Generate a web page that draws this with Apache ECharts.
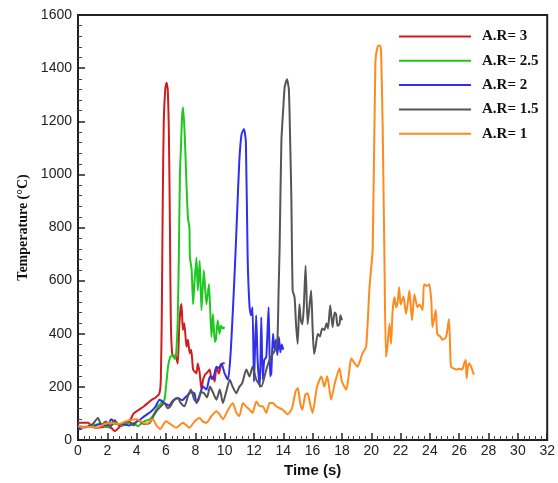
<!DOCTYPE html>
<html>
<head>
<meta charset="utf-8">
<script src="https://cdn.jsdelivr.net/npm/echarts@6/dist/echarts.min.js"></script>
<style>
  html, body { margin: 0; padding: 0; background: #fff; }
  #chart { width: 558px; height: 483px; }
</style>
</head>
<body>
<div id="chart"></div>
<script>
// time (s), temperature (°C)
const ar3 = [[0,65],[0.7,65],[0.9,52],[1.3,45],[1.8,50],[2.25,46],[2.5,34],[2.9,52],[3.3,60],[3.6,80],[3.8,100],[4.1,112],[4.5,127],[5.0,150],[5.3,160],[5.55,175],[5.65,230],[5.72,500],[5.78,900],[5.85,1200],[5.95,1320],[6.04,1345],[6.12,1320],[6.2,1150],[6.27,800],[6.33,450],[6.42,326],[6.55,310],[6.65,320],[6.8,288],[6.9,420],[7.0,500],[7.06,512],[7.15,414],[7.25,440],[7.4,351],[7.5,377],[7.62,326],[7.72,340],[7.85,265],[8.0,255],[8.08,251],[8.17,288],[8.3,251],[8.42,190],[8.53,227],[8.65,245],[8.76,251],[8.98,265],[9.1,230],[9.2,239],[9.32,220],[9.44,276],[9.6,250],[9.75,280],[9.89,288],[10.0,290]];
const ar25 = [[0,52],[0.5,50],[1.0,55],[1.5,60],[2.0,48],[2.5,62],[3.0,55],[3.4,65],[3.86,60],[4.08,52],[4.5,70],[4.9,78],[5.2,100],[5.45,127],[5.7,140],[5.9,152],[6.0,200],[6.15,280],[6.3,313],[6.5,320],[6.6,305],[6.7,330],[6.8,450],[6.88,700],[6.95,1000],[7.02,1100],[7.1,1220],[7.17,1252],[7.28,1146],[7.4,960],[7.5,835],[7.6,800],[7.63,690],[7.75,640],[7.85,511],[7.95,600],[8.08,686],[8.17,563],[8.3,675],[8.42,489],[8.58,638],[8.76,511],[8.93,586],[9.1,388],[9.2,474],[9.33,370],[9.4,377],[9.53,451],[9.65,400],[9.75,430],[9.87,420],[10.0,425]];
const ar2 = [[0,45],[0.5,48],[1.0,50],[1.5,60],[2.0,55],[2.27,78],[2.6,60],[3.0,60],[3.5,55],[4.08,71],[4.54,90],[5.0,108],[5.3,127],[5.56,152],[5.9,139],[6.2,130],[6.5,150],[6.8,158],[7.1,150],[7.4,165],[7.7,180],[7.94,176],[8.08,139],[8.3,170],[8.53,201],[8.76,190],[9.0,239],[9.2,230],[9.44,276],[9.6,270],[9.78,288],[10.0,251],[10.23,227],[10.4,320],[10.55,474],[10.7,650],[10.85,850],[11.0,1050],[11.15,1150],[11.32,1171],[11.45,1120],[11.57,686],[11.7,500],[11.8,470],[11.9,500],[12.0,220],[12.05,300],[12.15,470],[12.25,300],[12.4,200],[12.5,462],[12.6,227],[12.7,300],[12.84,313],[13.0,500],[13.1,240],[13.18,250],[13.3,400],[13.4,340],[13.5,377],[13.6,320],[13.7,388],[13.8,330],[13.9,360],[14.0,340]];
const ar15 = [[0.7,52],[1.0,60],[1.36,83],[1.6,55],[1.9,70],[2.2,50],[2.5,75],[2.8,55],[3.1,65],[3.5,70],[3.8,55],[4.1,75],[4.5,60],[4.9,65],[5.2,95],[5.45,115],[5.7,130],[5.9,139],[6.1,120],[6.3,127],[6.55,150],[6.8,158],[7.0,140],[7.26,127],[7.5,165],[7.7,190],[7.95,150],[8.17,145],[8.4,180],[8.6,176],[8.8,160],[9.0,201],[9.2,180],[9.44,152],[9.67,190],[9.88,139],[10.1,180],[10.35,227],[10.55,200],[10.8,176],[11.0,200],[11.2,214],[11.48,265],[11.7,239],[11.9,276],[12.16,227],[12.5,201],[12.84,265],[13.05,300],[13.28,324],[13.45,340],[13.6,377],[13.68,563],[13.75,724],[13.87,1123],[14.0,1250],[14.1,1330],[14.25,1358],[14.38,1320],[14.48,1100],[14.55,910],[14.64,563],[14.77,537],[14.87,436],[14.98,362],[15.1,511],[15.2,450],[15.3,436],[15.4,500],[15.52,656],[15.66,436],[15.78,500],[15.9,563],[16.0,420],[16.1,324],[16.2,350],[16.35,399],[16.5,390],[16.65,420],[16.8,414],[16.95,440],[17.05,420],[17.2,507],[17.36,425],[17.5,480],[17.6,474],[17.7,430],[17.83,436],[17.9,470],[18.0,451]];
const ar1 = [[0,52],[0.5,48],[1.0,50],[1.27,46],[1.8,60],[2.3,65],[2.8,60],[3.3,71],[3.6,75],[4.0,78],[4.3,70],[4.67,60],[5.1,78],[5.35,55],[5.6,41],[6.0,71],[6.3,60],[6.7,46],[7.15,65],[7.4,55],[7.6,46],[7.95,70],[8.3,83],[8.5,70],[8.76,65],[9.1,90],[9.44,108],[9.67,95],[9.88,78],[10.2,110],[10.55,139],[10.8,102],[11.0,90],[11.25,139],[11.48,125],[11.7,114],[11.9,102],[12.16,145],[12.4,127],[12.6,127],[12.84,102],[13.07,139],[13.3,139],[13.5,127],[13.75,120],[13.96,114],[14.3,97],[14.6,120],[14.85,185],[15.0,195],[15.15,139],[15.3,114],[15.5,170],[15.66,176],[15.85,130],[16.0,102],[16.3,200],[16.6,239],[16.8,201],[17.0,240],[17.26,152],[17.5,210],[17.83,270],[18.0,220],[18.3,190],[18.5,260],[18.63,307],[18.85,290],[19.06,276],[19.25,300],[19.4,326],[19.65,351],[19.88,575],[20.1,724],[20.28,1421],[20.44,1482],[20.6,1485],[20.67,1460],[20.78,1171],[20.9,675],[21.0,313],[21.1,350],[21.24,438],[21.35,362],[21.45,480],[21.58,537],[21.7,500],[21.8,520],[21.9,575],[22.0,510],[22.1,526],[22.2,540],[22.37,475],[22.5,520],[22.6,563],[22.7,500],[22.78,451],[22.94,549],[23.05,520],[23.15,500],[23.3,510],[23.5,489],[23.6,586],[23.8,580],[23.96,586],[24.1,520],[24.17,425],[24.3,460],[24.4,489],[24.5,399],[24.7,390],[24.85,377],[25.1,388],[25.3,456],[25.43,276],[25.6,270],[25.8,265],[26.0,268],[26.2,265],[26.35,290],[26.45,302],[26.5,232],[26.6,280],[26.7,288],[26.85,270],[27.0,246]];

const names = ["A.R= 3", "A.R= 2.5", "A.R= 2", "A.R= 1.5", "A.R= 1"];
const colors = ["#d01c1c", "#1fc81f", "#2f2ff0", "#555555", "#ff8a1e"];
const seriesData = [ar3, ar25, ar2, ar15, ar1];

const chart = echarts.init(document.getElementById("chart"));

const axisText = { color: "#222", fontFamily: "Liberation Sans, Arial", fontSize: 14, formatter: (v) => String(v) };

const option = {
  animation: false,
  grid: {
    left: 78, right: 10, top: 15, bottom: 39,
    show: true, borderColor: "#222", borderWidth: 2, backgroundColor: "#fff"
  },
  legend: {
    orient: "vertical",
    left: 398,
    top: 29,
    padding: 0,
    itemWidth: 72,
    itemHeight: 14,
    itemGap: 9.3,
    data: names,
    itemStyle: { opacity: 0 },
    textStyle: { fontFamily: "Liberation Serif, Times New Roman", fontWeight: "bold", fontSize: 15, color: "#111", padding: [0, 0, 0, 6] }
  },
  xAxis: {
    type: "value",
    min: 0, max: 32, interval: 2,
    name: "Time (s)",
    nameLocation: "middle",
    nameGap: 23,
    nameTextStyle: { fontFamily: "Liberation Sans, Arial", fontWeight: "bold", fontSize: 15, color: "#111" },
    axisLine: { lineStyle: { color: "#222", width: 2 } },
    axisTick: { inside: true, length: 7, lineStyle: { color: "#222", width: 1.5 } },
    minorTick: { show: true, splitNumber: 5, length: 4, lineStyle: { color: "#444" } },
    axisLabel: Object.assign({ margin: 4 }, axisText),
    splitLine: { show: false }
  },
  yAxis: {
    type: "value",
    min: 0, max: 1600, interval: 200,
    name: "Temperature (°C)",
    nameLocation: "middle",
    nameGap: 47,
    nameTextStyle: { fontFamily: "Liberation Serif, Times New Roman", fontWeight: "bold", fontSize: 14, color: "#111" },
    axisLine: { lineStyle: { color: "#222", width: 2 } },
    axisTick: { inside: true, length: 7, lineStyle: { color: "#222", width: 1.5 } },
    minorTick: { show: true, splitNumber: 5, length: 4, lineStyle: { color: "#444" } },
    axisLabel: Object.assign({ margin: 6 }, axisText),
    splitLine: { show: false }
  },
  series: seriesData.map((d, i) => ({
    name: names[i],
    type: "line",
    data: d,
    symbol: "none",
    smooth: 0.2,
    lineStyle: { color: colors[i], width: 2 },
    itemStyle: { color: colors[i] }
  }))
};
chart.setOption(option);
</script>
</body>
</html>
